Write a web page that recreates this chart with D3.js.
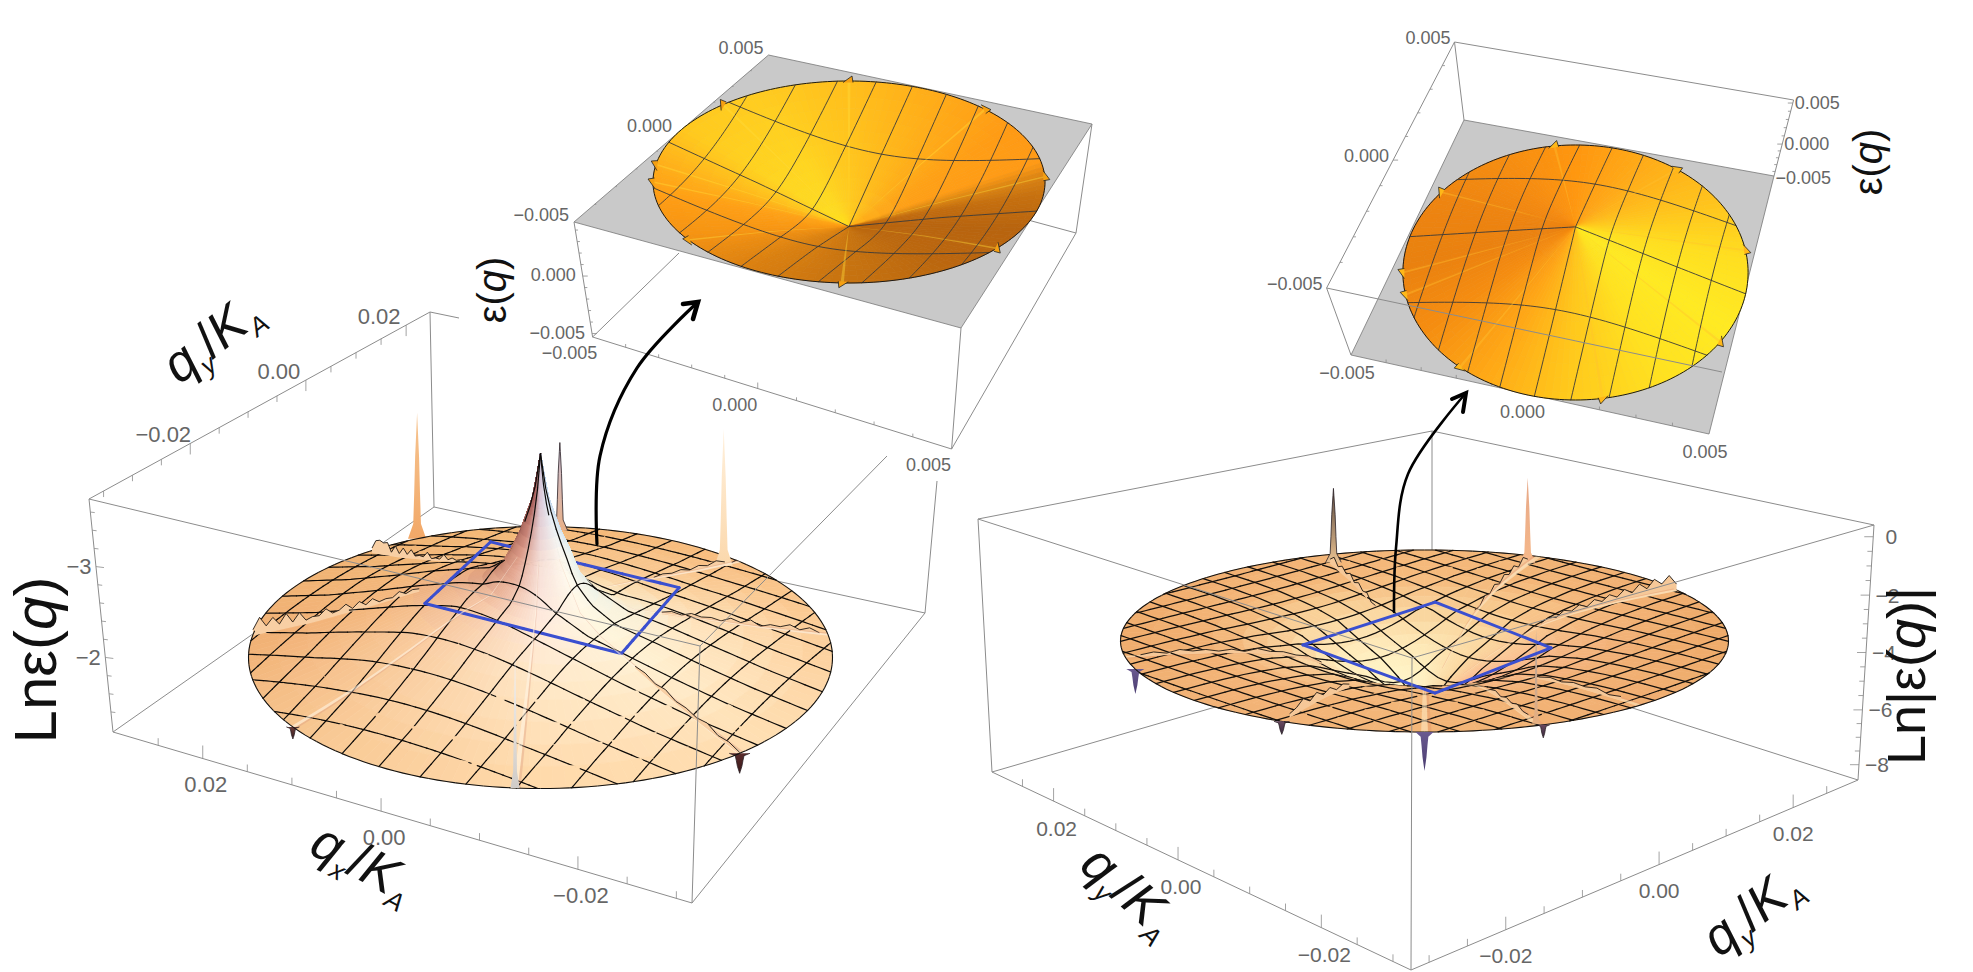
<!DOCTYPE html>
<html><head><meta charset="utf-8">
<style>html,body{margin:0;padding:0;background:#fff}svg{display:block}text{font-family:"Liberation Sans",Arial,sans-serif}</style>
<script src="https://cdn.jsdelivr.net/npm/d3@7/dist/d3.min.js"></script>
</head><body><svg id="c" width="1973" height="972"></svg>
<script>
// ---------- values ----------
const mainTickLabels=["0.02","0.00","\u22120.02"], mainTickValues=[0.02,0,-0.02];
const insetTickLabels=["\u22120.005","0.000","0.005"], insetTickValues=[-0.005,0,0.005];
const leftZTicks=[-3,-2], rightZTicks=[0,-2,-4,-6,-8];

// radial profiles of the surfaces (rho as fraction of disc radius)
const leftRho=[0,.01,.028,.07,.137,.2,.3,.44,.6,.8,1];
const leftLn=[-4.09,-3.9,-3.6,-3.23,-2.79,-2.62,-2.5,-2.4,-2.27,-2.12,-2];
const leftSkewAngles=[-180,-150,-120,-90,-60,-30,0,30,60,90,120,150,180];
const leftSkew=[1.3,1.35,1.2,1.05,.9,.8,.7,.6,.7,.85,1,1.2,1.3];
const rightRho=[0,.1,.2,.3,.42,.55,.7,.85,1];
const rightLn=[-6.5,-5.6,-5.0,-4.6,-4.1,-3.85,-3.7,-3.63,-3.6];
const inset1Rho=[0,.25,.5,.75,1], inset1Eps=[-.0004,.0008,.002,.0031,.0042];
const inset2Rho=[0,.25,.5,.75,1], inset2Eps=[.002,.00075,-.0005,-.00175,-.003];

// colour tables: rows by rho, columns by view angle
const mainAngles=[0,45,90,135,180,225,270,315,360];
const leftColorRho=[0,.02,.1,.25,.5,1];
const leftColors=[
 ["#9cb4d8","#7c88a8","#3a3238","#3a2428","#4a2a30","#8a4e4c","#c8c0d8","#d4e4f4","#9cb4d8"],
 ["#bcd4ee","#a0b0d0","#7c6a6c","#6a3a3c","#86484a","#a9605c","#d9c8d8","#dfeaf8","#bcd4ee"],
 ["#e4f0f0","#d8e6ea","#c8a090","#b0705c","#bf7c68","#e0a08c","#f7e0d8","#fffaf0","#e4f0f0"],
 ["#f6f2df","#fce8c0","#f5c89a","#eeac7c","#e8ac88","#f6c8a8","#ffebdd","#fff8e0","#f6f2df"],
 ["#ffe4bd","#f9cd98","#f5c086","#f2b878","#f4b880","#fad0a6","#ffe9c9","#fff0d2","#ffe4bd"],
 ["#fcce99","#f8bc7e","#f4b877","#f1b474","#f1b074","#f8c892","#ffd8a8","#ffddb0","#fcce99"]];
const rightColorRho=[0,.15,.3,.45,.7,1];
const rightColors=[
 ["#f8b28c","#fbd49c","#ffefc0","#fff6d0","#fff8d8","#fffbe0","#fff0d0","#f49e78","#f8b28c"],
 ["#fbb88e","#fbd79f","#ffefc0","#fff3c5","#fff3c5","#fff6cc","#fde0b8","#f7a884","#fbb88e"],
 ["#fbc090","#fbd7a0","#fce2ae","#ffe8b8","#ffeab8","#ffe9bc","#fbd3a6","#f9b488","#fbc090"],
 ["#f6b884","#f9c88c","#f8d098","#fad49c","#f9d09a","#f8c890","#f6be84","#f6b480","#f6b884"],
 ["#f1b074","#f3b678","#f5ba7c","#f4b87a","#f2b274","#f3b478","#f3b678","#f1b074","#f1b074"],
 ["#eeaa68","#f1b072","#f4b87a","#f2b072","#f0ac6c","#f2b276","#f3b678","#f0ae70","#eeaa68"]];
const inset1Angles=[0,8,30,60,90,120,150,170,190,215,240,270,300,330,350,360];
const inset1ColorRho=[0,.3,1];
const inset1Colors=[
 ["#f2a018","#ffb41c","#ffb41c","#ffc41c","#ffd020","#ffdc1e","#ffe01e","#ffd01e","#ffa818","#fa9a12","#df8410","#c87410","#bc680e","#b8640e","#c0680e","#f2a018"],
 ["#e08c12","#ff9e16","#ffa416","#ffb81a","#ffc81e","#ffd820","#ffd820","#ffc41c","#ffa216","#f89612","#dc8210","#c87410","#bc680e","#b8640e","#c06a0e","#e08c12"],
 ["#d98213","#ff9a16","#ff9a14","#ffaa18","#ffbe1c","#ffcc20","#ffc81e","#ffb01a","#ff9e14","#f59312","#db8010","#c67210","#bb660e","#b8640e","#c8720f","#d98213"]];
const inset2Angles=[0,30,60,90,120,150,180,210,240,270,300,330,360];
const inset2ColorRho=[0,1];
const inset2Colors=[
 ["#ffe020","#ffc41c","#ffa818","#ff9810","#f88c10","#ee8410","#ec8210","#f58c10","#ffa416","#ffc41c","#ffe220","#ffea22","#ffe020"],
 ["#ffe020","#ffc41c","#ffae18","#ff960f","#f58c10","#ee8410","#e9810f","#f58c10","#ffa916","#ffcc1c","#ffe220","#ffea22","#ffe020"]];

// spikes: view angle, radius, height in px, half width, base colour, tip colour, outlined
const leftSpikeAngle=[115,86,47,265,212,313];
const leftSpikeRadius=[1.0,.95,.92,1.0,1,1];
const leftSpikeHeight=[126,88,137,137,-12,-20];
const leftSpikeWidth=[7,6,7,3.5,5,8];
const leftSpikeBase=["#f2a868","#e8b088","#fbd8ac","#d0ccc8","#6a3a38","#5a2c2c"];
const leftSpikeTip=["#f6c490","#c8c0d8","#fff0dc","#f8f4f0","#3a2020","#3a1818"];
const leftSpikeDark=[0,1,0,0,1,1];
const rightSpikeAngle=[109,68.6,-68,-90,242,-67,198];
const rightSpikeRadius=[.92,.93,.98,1,1,1,1.0];
const rightSpikeHeight=[74,85,94,-39,-13,-13,-25];
const rightSpikeWidth=[6,6,3,7,6,5,7];
const rightSpikeBase=["#e8c090","#f6b88a","#e8b080","#6a5a90","#6a4a60","#6a4a60","#6a5a90"];
const rightSpikeTip=["#5a4a40","#e6a888","#a8a0a0","#4a3c70","#3a2a40","#3a2a40","#4a3c70"];
const rightSpikeDark=[1,0,0,0,1,1,0];

// jagged ridge crests: view angle, start and end radius, crest heights in px
const leftJagAngles=[170,126,10,313,47];
const leftJagStart=[.42,.42,.42,.5,.55];
const leftJagEnd=[1,.98,.97,1,.92];
const leftJags=[
 [2,3,1,5,1,2,1,6,2,7,2,8,4,3,9,4,5,3,12,4,14,5,13,6,16,5],
 [1,2,1,3,1,6,1,2,1,7,2,3,2,8,3,9,3,10,3,12,11,13,12,4],
 [1,3,1,4,2,3,1,5,2,6,1,4,3,6,2,5,1],
 [1,3,1,4,1,3,2,5,1,3,1],
 [1,3,2,4,2,5,3,6,3]];
const rightJagAngles=[34,190,110,68,242,-45,-68];
const rightJagStart=[.45,.35,.45,.42,.55,.55,.6];
const rightJagEnd=[1,.95,.9,.9,.95,.92,.92];
const rightJags=[
 [2,5,2,6,3,7,3,8,4,9,5,11,6,13,7,15,9,16,6],
 [1,3,1,3,2,4,1,3,1,3,2,4,1,3,1],
 [3,1,5,2,6,2,7,3,7,3,9,4],
 [3,1,6,2,7,3,8,4,9,4,10,5],
 [2,5,2,7,3,9,4,10,5,3],
 [1,3,1,3,2,4,1,3],
 [2,4,1,4,2,5,2,3]];

// light folds running out from the centre
const leftFoldAngles=[265,212,313,10,47];
const rightFoldAngles=[34,68,-45,-68,-90,190];
const inset1FoldAngles=[90,46,3,-41,-92,215,180,170,130];
const inset2FoldAngles=[97,54,10,-33,-81,228,190,180,141];

// barbs on the rim of the insets
const inset1Barbs=[90,46,3,-41,-92,215,180,170,130];
const inset2Barbs=[97,54,10,-33,-81,228,190,180,141];

// mesh line positions (in units of the disc radius)
const leftMesh=[-.87,-.725,-.58,-.435,-.29,-.145,0,.145,.29,.435,.58,.725,.87];
const rightMesh=[-.945,-.84,-.735,-.63,-.525,-.42,-.315,-.21,-.105,0,.105,.21,.315,.42,.525,.63,.735,.84,.945];
const inset1MeshA=[-.45,0,.5], inset1MeshB=[-.8,-.6,-.4,-.2,0,.2,.4,.6,.8];
const inset2MeshA=[-.5,0,.52], inset2MeshB=[-.8,-.6,-.4,-.2,0,.2,.4,.6,.8];

// corners of the +-0.005 square on each surface: view angle, radius, height above rim level (px)
const leftSquareAngle=[108.3,36.4,-44,194], leftSquareRadius=[.544,.59,.385,.408], leftSquareLift=[48,24,39,67];
const rightSquareAngle=[86,13.5,-84,166], rightSquareRadius=[.506,.428,.332,.412], rightSquareLift=[-7,-16,-22,-13];

// ---------- drawing ----------
const svg=d3.select("#c");
const defs=svg.append("defs");
let gid=0;
const GRAY="#8c8c8c", LBL="#666";
const rad=d=>d*Math.PI/180;
const line=d3.line();

function colorLookup(angles,rows,table){
  const rs=table.map(c=>d3.scaleLinear().domain(angles).range(c).interpolate(d3.interpolateRgb));
  return (rho,deg)=>{
    deg=((deg%360)+360)%360;
    let i=d3.bisectRight(rows,rho)-1; i=Math.max(0,Math.min(rows.length-2,i));
    const t=Math.min(1,(rho-rows[i])/(rows[i+1]-rows[i]));
    return d3.interpolateRgb(rs[i](deg),rs[i+1](deg))(t);
  };
}

function surface(p){
  const g=svg.append("g");
  const ch=Math.cosh(p.boost), sh=Math.sinh(p.boost), ca=Math.cos(rad(p.alpha)), sa=Math.sin(rad(p.alpha));
  const zPx=d3.scaleLinear().domain(p.zDomain).range(p.zRange);
  const prof=d3.scaleLinear().domain(p.rho).range(p.z).clamp(true);
  const skew=p.skewA?d3.scaleLinear().domain(p.skewA).range(p.skew):()=>1;
  const lift=(x,y)=>{const r=Math.hypot(x,y);
    const f=skew(Math.atan2(y,x)*180/Math.PI);
    return zPx(prof(r))*(1+(f-1)*Math.max(0,Math.min(1,(r-.1)/.2)));};
  const ground=(x,y)=>{const d=ch+y*sh;return [p.cx+p.rx*x/d,p.cy-p.ry*(y*ch+sh)/d,(y*ch+sh)/d];};
  const pt=(x,y,e=0)=>{const q=ground(x,y);return [q[0],q[1]-lift(x,y)-e];};
  const depth=(x,y)=>ground(x,y)[2];
  const rot=(u,v)=>[u*ca-v*sa,u*sa+v*ca];
  const fromView=(deg,r)=>{const X=r*Math.cos(rad(deg)),Y=r*Math.sin(rad(deg)),d=ch-Y*sh;return [X/d,(Y*ch-sh)/d];};
  const col=colorLookup(p.colorAngles,p.colorRho,p.colors);
  const items=[];
  // surface cells
  for(let i=0;i<p.rings.length-1;i++){
    for(let j=0;j<p.sectors;j++){
      const r0=p.rings[i],r1=p.rings[i+1],a0=2*Math.PI*j/p.sectors,a1=2*Math.PI*(j+1)/p.sectors;
      const P=(r,a)=>[r*Math.cos(a),r*Math.sin(a)];
      const c=[P(r0,a0),P(r1,a0),P(r1,a1),P(r0,a1)];
      const am=(a0+a1)/2, rm=(r0+r1)/2, mid=P(rm,am), fill=col(rm,am*180/Math.PI);
      items.push({d:line(c.map(q=>pt(q[0],q[1])))+"Z",fill,stroke:fill,sw:.7,depth:depth(mid[0],mid[1])});
    }
  }
  // folds
  (p.folds||[]).forEach((deg,k)=>{
    const c=fromView(deg,1),a=Math.atan2(c[1],c[0]),w=p.foldW;
    const n=8,up=[],dn=[];
    for(let i=0;i<=n;i++){const r=p.foldStart+(1-p.foldStart)*i/n;
      up.push(pt(r*Math.cos(a+w),r*Math.sin(a+w)));dn.unshift(pt(r*Math.cos(a-w),r*Math.sin(a-w)));}
    items.push({d:line(up.concat(dn))+"Z",fill:p.foldColor,stroke:"none",sw:0,opacity:p.foldOpacity,
      depth:Math.min(depth(c[0],c[1]),depth(c[0]*p.foldStart,c[1]*p.foldStart))-.03});
    if(p.foldDark){const a2=a+w*1.6,up2=[],dn2=[];
      for(let i=0;i<=n;i++){const r=p.foldStart+(1-p.foldStart)*i/n;
        up2.push(pt(r*Math.cos(a2+w*.5),r*Math.sin(a2+w*.5)));dn2.unshift(pt(r*Math.cos(a2-w*.5),r*Math.sin(a2-w*.5)));}
      items.push({d:line(up2.concat(dn2))+"Z",fill:p.foldDark,stroke:"none",sw:0,opacity:p.foldOpacity*.6,
        depth:Math.min(depth(c[0],c[1]),depth(c[0]*p.foldStart,c[1]*p.foldStart))-.03});}
  });
  // jagged crests
  (p.jagA||[]).forEach((deg,k)=>{
    const c=fromView(deg,1),a=Math.atan2(c[1],c[0]),h=p.jags[k],top=[],bot=[];
    h.forEach((v,i)=>{const r=p.jagS[k]+(p.jagE[k]-p.jagS[k])*i/(h.length-1),x=r*Math.cos(a),y=r*Math.sin(a);
      top.push(pt(x,y,v));bot.unshift(pt(x,y,-1));});
    const dp=Math.min(depth(c[0],c[1]),depth(c[0]*p.jagS[k],c[1]*p.jagS[k]))-.04;
    items.push({d:line(top.concat(bot))+"Z",fill:p.jagFill,stroke:"none",sw:0,depth:dp});
    items.push({d:line(top),fill:"none",stroke:"#1c1612",sw:.9,depth:dp-.001});
  });
  // mesh lines
  const meshLine=(fixed,alongU)=>{
    const m=Math.sqrt(Math.max(0,1-fixed*fixed)),N=p.meshN,step=p.meshChunk;
    for(let s=0;s<N;s+=step){
      const pts=[],ds=[];
      for(let i=s;i<=Math.min(N,s+step);i++){
        const t=-m+2*m*i/N,q=alongU?rot(t,fixed):rot(fixed,t);
        pts.push(pt(q[0],q[1]));ds.push(depth(q[0],q[1]));
      }
      items.push({d:line(pts),fill:"none",stroke:p.meshColor,sw:p.meshW,depth:d3.min(ds)-.035,cap:"round"});
    }
  };
  p.meshA.forEach(v=>meshLine(v,true));
  p.meshB.forEach(v=>meshLine(v,false));
  // rim
  for(let j=0;j<72;j++){
    const pts=[],ds=[];
    for(let i=0;i<=3;i++){const a=2*Math.PI*(j+i/3)/72;pts.push(pt(Math.cos(a),Math.sin(a)));ds.push(depth(Math.cos(a),Math.sin(a)));}
    items.push({d:line(pts),fill:"none",stroke:p.rimColor,sw:p.rimW,depth:d3.min(ds)-.05});
  }
  // square outline on the surface, straight between its corners
  if(p.sqA){
    const corners=p.sqA.map((deg,i)=>{const q=fromView(deg,p.sqR[i]),b=ground(q[0],q[1]);return [b[0],b[1]-p.sqL[i],b[2]];});
    corners.forEach((c,e)=>{
      const n=corners[(e+1)%4],N=p.sqTop?1:10;
      for(let i=0;i<N;i++){
        const A=d3.interpolateNumberArray(c,n)(i/N),B=d3.interpolateNumberArray(c,n)((i+1)/N);
        items.push({d:line([[A[0],A[1]],[B[0],B[1]]]),fill:"none",stroke:"#3a4fd0",sw:3,
          depth:p.sqTop?-8:Math.min(A[2],B[2])-.04,cap:"round"});
      }
    });
  }
  // barbs
  (p.barbs||[]).forEach(deg=>{
    const q=fromView(deg,1),b=pt(q[0],q[1]),o=[Math.cos(rad(deg))*p.rx,-Math.sin(rad(deg))*p.ry],L=Math.hypot(o[0],o[1]);
    const nx=o[0]/L,ny=o[1]/L,tx=-ny,ty=nx;
    const tri=[[b[0]-tx*6-nx*1.5,b[1]-ty*6-ny*1.5],[b[0]+nx*5+tx*3,b[1]+ny*5+ty*3],[b[0]+tx*4-nx*1.5,b[1]+ty*4-ny*1.5]];
    items.push({d:line(tri),fill:p.barbFill,stroke:"#222",sw:.8,depth:-9});
  });
  // spikes
  (p.spA||[]).forEach((deg,k)=>{
    const q=fromView(deg,p.spR[k]),b=pt(q[0],q[1]),h=p.spH[k],w=p.spW[k];
    const id="sg"+(gid++);
    const lg=defs.append("linearGradient").attr("id",id).attr("x1",0).attr("y1",h>0?1:0).attr("x2",0).attr("y2",h>0?0:1);
    lg.append("stop").attr("offset",0).attr("stop-color",p.spB[k]);
    lg.append("stop").attr("offset",1).attr("stop-color",p.spT[k]);
    const s=[[-w*1.3,0],[-w*.55,.12],[-w*.42,.35],[-w*.28,.65],[-w*.08,.9],[0,1],[w*.08,.9],[w*.28,.65],[w*.42,.35],[w*.55,.12],[w*1.3,0]]
      .map(v=>[b[0]+v[0],b[1]-v[1]*h]);
    items.push({d:line(s),fill:`url(#${id})`,stroke:p.spD[k]?"#2a2024":"none",sw:p.spD[k]?.8:0,depth:depth(q[0],q[1])-.06});
  });
  items.sort((a,b)=>b.depth-a.depth);
  g.selectAll("path").data(items).join("path")
    .attr("d",d=>d.d).attr("fill",d=>d.fill).attr("stroke",d=>d.stroke)
    .attr("stroke-width",d=>d.sw).attr("fill-opacity",d=>d.opacity==null?null:d.opacity)
    .attr("stroke-linecap",d=>d.cap||null).attr("stroke-linejoin","round");
}

function boxLines(list,color=GRAY,w=1){
  svg.append("g").selectAll("line").data(list).join("line")
   .attr("x1",d=>d[0][0]).attr("y1",d=>d[0][1]).attr("x2",d=>d[1][0]).attr("y2",d=>d[1][1])
   .attr("stroke",color).attr("stroke-width",w);
}
function axis(a){
  const g=svg.append("g");
  const f=d3.scaleLinear().domain(a.values).range(a.fracs);
  const at=v=>{const t=f(v);return [a.from[0]+(a.to[0]-a.from[0])*t,a.from[1]+(a.to[1]-a.from[1])*t];};
  const minor=d3.range(-40,41).map(k=>k*a.step).filter(v=>f(v)>.01&&f(v)<.99);
  const isMajor=v=>a.values.some(m=>Math.abs(m-v)<1e-9);
  g.selectAll("line").data(minor).join("line")
   .attr("x1",v=>at(v)[0]).attr("y1",v=>at(v)[1])
   .attr("x2",v=>at(v)[0]+a.tick[0]*(isMajor(v)?1:.55)).attr("y2",v=>at(v)[1]+a.tick[1]*(isMajor(v)?1:.55))
   .attr("stroke",GRAY).attr("stroke-width",.8);
  g.selectAll("text").data(a.values).join("text")
   .attr("x",v=>at(v)[0]+a.off[0]).attr("y",v=>at(v)[1]+a.off[1])
   .attr("text-anchor",a.anchor||"middle").attr("dominant-baseline","central")
   .attr("font-size",a.size).attr("fill",LBL)
   .text((v,i)=>a.labels[i]);
}
function title(x,y,rot,size,parts){
  const t=svg.append("text").attr("transform",`translate(${x},${y}) rotate(${rot})`)
    .attr("text-anchor","middle").attr("font-size",size).attr("fill","#111");
  parts.forEach(p=>{
    const s=t.append("tspan").text(p.t);
    if(p.i)s.attr("font-style","italic");
    if(p.sub){s.attr("font-size",size*.5).attr("dy",size*.2);}
    if(p.up){s.attr("dy",-size*.2);}
  });
}
function arrow(points,tipA,tipB,w){
  const g=svg.append("g").attr("fill","none").attr("stroke","#000").attr("stroke-linecap","round");
  g.append("path").attr("d",d3.line().curve(d3.curveCatmullRom)(points)).attr("stroke-width",w);
  const tip=points[points.length-1];
  g.append("path").attr("d",line([tipA,tip,tipB])).attr("stroke-width",w+1.4).attr("stroke-linejoin","miter");
}
const fineRings=[0,.003,.006,.01,.015,.02,.028,.036,.045,.056,.07,.085,.1,.12,.137,.16,.2,.25,.3,.36,.44,.52,.6,.7,.8,.9,1];
const coarseRings=[0,.08,.16,.24,.32,.4,.48,.56,.64,.72,.8,.88,.96,1];

// ----- left large panel
const LL={TL:[89,499],TB:[430,312],BL:[113,732],BB:[434,507],BF:[692,903],BR:[925,613],TF:[700,646]};
boxLines([[LL.TL,LL.TB],[LL.TB,LL.BB],[LL.BL,LL.BB],[LL.BB,LL.BR],[LL.TB,[459,318]],[LL.TL,LL.BL],[LL.BL,LL.BF],[LL.BF,LL.BR],[[937,481],LL.BR]]);
axis({from:LL.BL,to:LL.BF,values:mainTickValues,fracs:[.155,.463,.803],step:.005,tick:[0,-13],off:[3,26],labels:mainTickLabels,size:22});
axis({from:LL.TL,to:LL.TB,values:mainTickValues.slice().reverse(),fracs:[.297,.636,.93],step:.005,tick:[0,11],off:[-27,-9],labels:mainTickLabels.slice().reverse(),size:22});
axis({from:LL.TL,to:LL.BL,values:[-3,-2],fracs:[.29,.68],step:.2,tick:[8,1],off:[-17,0],labels:["\u22123","\u22122"],size:22});
surface({cx:540.5,cy:657.5,rx:292,ry:131,boost:.12,alpha:-30,zDomain:[-2,-3],zRange:[0,90],rho:leftRho,z:leftLn,skewA:leftSkewAngles,skew:leftSkew,
  rings:fineRings,sectors:160,colorAngles:mainAngles,colorRho:leftColorRho,colors:leftColors,
  folds:leftFoldAngles,foldStart:.1,foldW:.008,foldColor:"#fff4e2",foldOpacity:.6,foldDark:"#d8967c",
  jagA:leftJagAngles,jagS:leftJagStart,jagE:leftJagEnd,jags:leftJags,jagFill:"#f8cfa4",
  meshA:leftMesh,meshB:leftMesh,meshN:96,meshChunk:3,meshColor:"#0c0a08",meshW:1.2,rimColor:"#111",rimW:1.1,
  sqA:leftSquareAngle,sqR:leftSquareRadius,sqL:leftSquareLift,
  spA:leftSpikeAngle,spR:leftSpikeRadius,spH:leftSpikeHeight,spW:leftSpikeWidth,spB:leftSpikeBase,spT:leftSpikeTip,spD:leftSpikeDark});
boxLines([[LL.TL,LL.TF],[LL.TF,LL.BF],[LL.TF,[887,456]]]);
title(56,660,-90,60,[{t:"Ln\u03b5("},{t:"q",i:1},{t:")"}]);
title(222,352,-38,52,[{t:"q",i:1},{t:"y",i:1,sub:1},{t:"/",up:1},{t:"K",i:1},{t:"A",i:1,sub:1}]);
title(355,878,28,52,[{t:"q",i:1},{t:"x",i:1,sub:1},{t:"/",up:1},{t:"K",i:1},{t:"A",i:1,sub:1}]);

// ----- right large panel
const RR={TL:[978,519],TB:[1432,431],TR:[1874,525],TF:[1412,658],BL:[992,772],BR:[1858,780],BF:[1411,970],BB:[1432,644]};
boxLines([[RR.TL,RR.TB],[RR.TB,RR.TR],[RR.TB,RR.BB],[RR.BL,RR.BB],[RR.BB,RR.BR],[RR.TL,RR.BL],[RR.TR,RR.BR],[RR.BL,RR.BF],[RR.BF,RR.BR]]);
axis({from:RR.BL,to:RR.BF,values:mainTickValues,fracs:[.147,.444,.786],step:.005,tick:[0,-13],off:[3,27],labels:mainTickLabels,size:21});
axis({from:RR.BF,to:RR.BR,values:mainTickValues.slice().reverse(),fracs:[.212,.555,.855],step:.005,tick:[0,-13],off:[0,26],labels:mainTickLabels.slice().reverse(),size:21});
axis({from:RR.TR,to:RR.BR,values:rightZTicks,fracs:[.046,.275,.5,.725,.94],step:.5,tick:[-9,0],off:[18,0],labels:["0","\u22122","\u22124","\u22126","\u22128"],size:21});
surface({cx:1424.5,cy:641,rx:304,ry:91,boost:.1,alpha:45,zDomain:[-3.6,-7.6],zRange:[0,-114],rho:rightRho,z:rightLn,
  rings:fineRings,sectors:120,colorAngles:mainAngles,colorRho:rightColorRho,colors:rightColors,
  folds:rightFoldAngles,foldStart:.15,foldW:.01,foldColor:"#fde6c0",foldOpacity:.6,foldDark:"#e0906c",
  jagA:rightJagAngles,jagS:rightJagStart,jagE:rightJagEnd,jags:rightJags,jagFill:"#f6c898",
  meshA:rightMesh,meshB:rightMesh,meshN:48,meshChunk:3,meshColor:"#14100c",meshW:1.25,rimColor:"#111",rimW:1.1,
  sqA:rightSquareAngle,sqR:rightSquareRadius,sqL:rightSquareLift,sqTop:1,
  spA:rightSpikeAngle,spR:rightSpikeRadius,spH:rightSpikeHeight,spW:rightSpikeWidth,spB:rightSpikeBase,spT:rightSpikeTip,spD:rightSpikeDark});
boxLines([[RR.TL,RR.TF],[RR.TR,RR.TF],[RR.TF,RR.BF]]);
title(1925,676,-90,54,[{t:"Ln|\u03b5("},{t:"q",i:1},{t:")|"}]);
title(1762,925,-38,52,[{t:"q",i:1},{t:"y",i:1,sub:1},{t:"/",up:1},{t:"K",i:1},{t:"A",i:1,sub:1}]);
title(1118,904,42,52,[{t:"q",i:1},{t:"y",i:1,sub:1},{t:"/",up:1},{t:"K",i:1},{t:"A",i:1,sub:1}]);

// ----- inset 1
const A={P1:[768.5,55],P2:[1092,124],P3:[961,328],P4:[574,222],L1:[592.6,337],L2:[951.6,449],L3:[1076,233],L4:[679,253]};
svg.append("polygon").attr("points",[A.P1,A.P2,A.P3,A.P4].join(" ")).attr("fill","#c9c9c9").attr("stroke","#777").attr("stroke-width",.8);
boxLines([[A.P4,A.L1],[A.P3,A.L2],[A.P2,A.L3],[A.L1,A.L2],[A.L2,A.L3],[A.L1,A.L4],[A.L3,[1028,220]]]);
axis({from:A.L1,to:A.L2,values:insetTickValues,fracs:[0,.46,1],step:.001,tick:[0,-6],off:[-23,16],labels:insetTickLabels,size:18});
axis({from:A.P4,to:A.P1,values:insetTickValues,fracs:[0,.53,1],step:.001,tick:[3,0],off:[-5,-7],anchor:"end",labels:insetTickLabels,size:18});
axis({from:A.P4,to:A.L1,values:[0,-.005],fracs:[.47,.97],step:.001,tick:[5,0],off:[-7,-1],anchor:"end",labels:["0.000","\u22120.005"],size:18});
surface({cx:849,cy:182,rx:196,ry:101,boost:.06,alpha:-20,zDomain:[.0042,-.0008],zRange:[0,-55],rho:inset1Rho,z:inset1Eps,
  rings:coarseRings,sectors:144,colorAngles:inset1Angles,colorRho:inset1ColorRho,colors:inset1Colors,
  folds:inset1FoldAngles,foldStart:.05,foldW:.008,foldColor:"#ffdc3a",foldOpacity:.42,
  meshA:inset1MeshA,meshB:inset1MeshB,meshN:48,meshChunk:48,meshColor:"#3a3a3a",meshW:.9,rimColor:"#1a1a1a",rimW:1,
  barbs:inset1Barbs,barbFill:"#f5a012"});
title(506,290,-90,40,[{t:"\u03b5("},{t:"q",i:1},{t:")"}]);

// ----- inset 2
const B={P1:[1464,120],P2:[1774,176],P3:[1709,434],P4:[1351,355],U1:[1454.5,42],U2:[1793.6,100],U4:[1326.6,288]};
svg.append("polygon").attr("points",[B.P1,B.P2,B.P3,B.P4].join(" ")).attr("fill","#c9c9c9").attr("stroke","#777").attr("stroke-width",.8);
boxLines([[B.U1,B.U2],[B.U1,B.U4],[B.U1,B.P1],[B.U2,B.P2],[B.U4,B.P4]]);
axis({from:B.P4,to:B.P3,values:insetTickValues,fracs:[0,.49,1],step:.001,tick:[0,-6],off:[-4,18],labels:insetTickLabels,size:18});
axis({from:B.U4,to:B.U1,values:insetTickValues,fracs:[0,.52,1],step:.001,tick:[5,0],off:[-4,-4],anchor:"end",labels:insetTickLabels,size:18});
axis({from:B.U2,to:B.P2,values:[.005,0,-.005],fracs:[.04,.58,1.03],step:.001,tick:[-5,0],off:[2,0],anchor:"start",labels:["0.005","0.000","\u22120.005"],size:18});
surface({cx:1575.5,cy:272.5,rx:172.6,ry:127.5,boost:.06,alpha:-13,zDomain:[-.003,.002],zRange:[0,38],rho:inset2Rho,z:inset2Eps,
  rings:coarseRings,sectors:144,colorAngles:inset2Angles,colorRho:inset2ColorRho,colors:inset2Colors,
  folds:inset2FoldAngles,foldStart:.05,foldW:.008,foldColor:"#ffc030",foldOpacity:.4,
  meshA:inset2MeshA,meshB:inset2MeshB,meshN:48,meshChunk:48,meshColor:"#3a3a3a",meshW:.9,rimColor:"#1a1a1a",rimW:1,
  barbs:inset2Barbs,barbFill:"#ffb818"});
boxLines([[B.U4,[1722,372]]]);
title(1882,162,-90,40,[{t:"\u03b5("},{t:"q",i:1},{t:")"}]);

// ----- arrows
arrow([[597,544],[600,456],[637,368],[698,302]],[683,304],[693,319],3.2);
arrow([[1394,612],[1396,548],[1408,474],[1466,393]],[1452,399],[1463,412],2.6);
</script></body></html>
